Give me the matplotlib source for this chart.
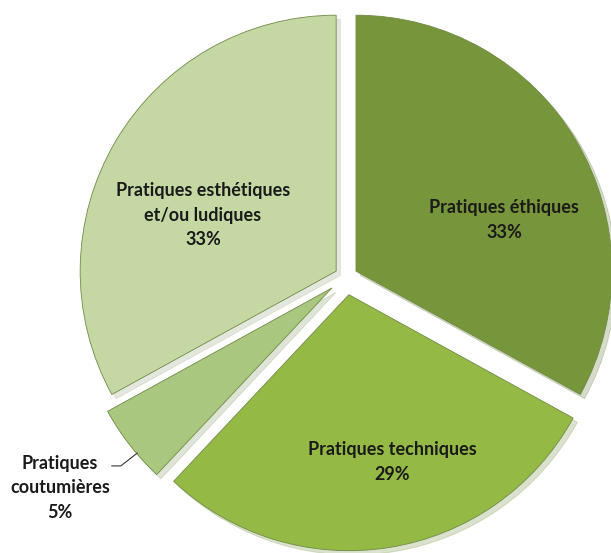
import matplotlib.pyplot as plt

# Data
labels = ["Pratiques éthiques", "Pratiques techniques", "Pratiques\ncoutumières", "Pratiques esthétiques\net/ou ludiques"]
values = [33, 29, 5, 33]
colors = ["#77953A", "#94BA45", "#A9C77E", "#C5D8A3"]
explode = [0.045, 0.07, 0.07, 0.045]

plt.rcParams["font.family"] = ["Lato", "DejaVu Sans"]

fig = plt.figure(figsize=(6.11, 5.53), dpi=100)
ax = fig.add_axes([0, 0, 1, 1])

wedges, _ = ax.pie(values, colors=colors, explode=explode, startangle=90,
                   counterclock=False, radius=1,
                   wedgeprops=dict(edgecolor="#6f8a45", linewidth=0.6),
                   shadow=dict(ox=0.012, oy=-0.012, shade=0.25, alpha=0.25))

ax.set_xlim(-1.352, 1.035)
ax.set_ylim(-1.078, 1.082)
ax.set_aspect("equal")
ax.axis("off")

txt = dict(ha="center", va="center", fontsize=13, fontweight="bold", color="#1a1a1a", linespacing=1.55)
ax.text(0.617, 0.223, f"{labels[0]}\n{values[0]}%", **txt)
ax.text(0.180, -0.723, f"{labels[1]}\n{values[1]}%", **txt)
ax.text(-0.559, 0.242, f"{labels[3]}\n{values[3]}%", **txt)
ax.text(-1.117, -0.824, f"{labels[2]}\n{values[2]}%", **txt)

# leader line for the small slice
ax.plot([-0.915, -0.88, -0.816], [-0.738, -0.738, -0.688], color="#333333", lw=0.8)

fig.savefig("out.png", dpi=100)
